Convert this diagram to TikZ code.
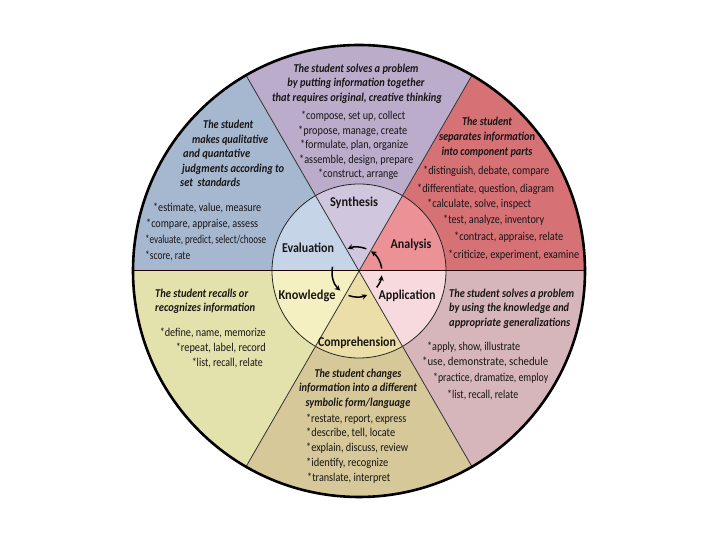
\documentclass[tikz,border=0pt]{standalone}
\usepackage{fontspec}
\usepackage{graphicx}
\setmainfont{Carlito}
\newfontfamily\cf[FakeStretch=0.86]{Carlito}
\usetikzlibrary{arrows.meta,calc}
\newcommand\fitw[2]{\resizebox{#1pt}{\height}{#2}}
\definecolor{synO}{RGB}{186,172,202}
\definecolor{synI}{RGB}{208,198,222}
\definecolor{evaO}{RGB}{166,184,208}
\definecolor{evaI}{RGB}{198,212,232}
\definecolor{anaO}{RGB}{214,114,118}
\definecolor{anaI}{RGB}{236,146,150}
\definecolor{appO}{RGB}{214,182,186}
\definecolor{appI}{RGB}{246,218,222}
\definecolor{comO}{RGB}{214,200,152}
\definecolor{comI}{RGB}{236,222,168}
\definecolor{knoO}{RGB}{228,226,172}
\definecolor{knoI}{RGB}{244,240,194}
\definecolor{txt}{RGB}{25,22,22}
\tikzset{
  hd/.style={font=\cf\fontsize{12}{14}\selectfont\bfseries\itshape, text=txt, inner sep=0pt},
  bd/.style={font=\cf\fontsize{12}{14}\selectfont, text=txt, inner sep=0pt},
  lb/.style={font=\cf\fontsize{13.5}{15}\selectfont\bfseries, text=txt, inner sep=0pt},
  sep/.style={draw=black!80, line width=0.8pt},
  cyc/.style={line width=1.5pt, -{Stealth[length=5.5pt,width=5.5pt]}}
}
\begin{document}
\begin{tikzpicture}[x=1pt,y=1pt]
\useasboundingbox (0,0) rectangle (720,540);
\coordinate (c) at (359,269);
% outer sectors
\foreach \a/\col in {0/anaO,60/synO,120/evaO,180/knoO,240/comO,300/appO}{
  \fill[\col] (c) -- ++(\a:226) arc[start angle=\a, end angle=\a+60, radius=226] -- cycle;
}
% inner sectors
\foreach \a/\col in {0/anaI,60/synI,120/evaI,180/knoI,240/comI,300/appI}{
  \fill[\col] (c) -- ++(\a:87) arc[start angle=\a, end angle=\a+60, radius=87] -- cycle;
}
\draw[black!85, line width=0.8pt] (c) circle[radius=87];
\foreach \a in {60,120,240,300}{ \draw[sep] (c) -- ++(\a:226); }
\coordinate (hl) at ($(c)+(-226,0)$);
\coordinate (hr) at ($(c)+(226,0)$);
\draw[draw=black!85!red, line width=1pt] (hl) -- (hr);
\draw[black, line width=2.6pt] (c) circle[radius=226];
% cycle arrows
\coordinate (m) at (357,268);
\draw[cyc] ($(m)+(68:25)$) arc[start angle=68, end angle=112, radius=25];
\draw[cyc] ($(m)+(168:25)$) arc[start angle=168, end angle=228, radius=25];
\draw[cyc] ($(m)+(250:25)$) arc[start angle=250, end angle=294, radius=25];
\draw[cyc] ($(m)+(322:25)$) arc[start angle=322, end angle=352, radius=25];
\draw[cyc] ($(m)+(8:25)$) arc[start angle=8, end angle=56, radius=25];
% inner labels
\node[lb] (lsyn) at (354,337) {\fitw{48}{Synthesis}};
\node[lb] (leva) at (308,292) {\fitw{52}{Evaluation}};
\node[lb] (lana) at (411,295) {\fitw{41}{Analysis}};
\node[lb] (lkno) at (307,244) {\fitw{57}{Knowledge}};
\node[lb] (lapp) at (407,244) {\fitw{57}{Application}};
\node[lb] (lcom) at (357,197) {\fitw{78}{Comprehension}};
% Synthesis
\node[hd, anchor=base] (s1) at (356,467) {\fitw{125}{The student solves a problem}};
\node[hd, anchor=base] (s2) at (356,453) {\fitw{137}{by putting information together}};
\node[hd, anchor=base] (s3) at (357,438) {\fitw{170}{that requires original, creative thinking}};
\node[bd, anchor=base west] (s4) at (301,420) {\fitw{104}{*compose, set up, collect}};
\node[bd, anchor=base west] (s5) at (298,405.5) {\fitw{109}{*propose, manage, create}};
\node[bd, anchor=base west] (s6) at (300,391) {\fitw{108}{*formulate, plan, organize}};
\node[bd, anchor=base west] (s7) at (299,376.5) {\fitw{114}{*assemble, design, prepare}};
\node[bd, anchor=base west] (s8) at (318,362) {\fitw{80}{*construct, arrange}};
% Evaluation
\node[hd, anchor=base west] (e1) at (203,411) {\fitw{50}{The student}};
\node[hd, anchor=base west] (e2) at (192,396.5) {\fitw{76}{makes qualitative}};
\node[hd, anchor=base west] (e3) at (183,382) {\fitw{67}{and quantative}};
\node[hd, anchor=base west] (e4) at (182,367.5) {\fitw{102}{judgments according to}};
\node[hd, anchor=base west] (e5) at (180,353) {\fitw{60}{set\ \ standards}};
\node[bd, anchor=base west] (e6) at (153,328) {\fitw{108}{*estimate, value, measure}};
\node[bd, anchor=base west] (e7) at (146,312) {\fitw{112}{*compare, appraise, assess}};
\node[bd, anchor=base west] (e8) at (145,296) {\fitw{121}{*evaluate, predict, select/choose}};
\node[bd, anchor=base west] (e9) at (145,280) {\fitw{45}{*score, rate}};
% Analysis
\node[hd, anchor=base] (a1) at (487,414) {\fitw{50}{The student}};
\node[hd, anchor=base] (a2) at (487,399) {\fitw{96}{separates information}};
\node[hd, anchor=base] (a3) at (487,384) {\fitw{91}{into component parts}};
\node[bd, anchor=base west] (a4) at (423,365) {\fitw{126}{*distinguish, debate, compare}};
\node[bd, anchor=base west] (a5) at (417,347) {\fitw{137}{*differentiate, question, diagram}};
\node[bd, anchor=base west] (a6) at (427,332) {\fitw{104}{*calculate, solve, inspect}};
\node[bd, anchor=base west] (a7) at (443,316) {\fitw{101}{*test, analyze, inventory}};
\node[bd, anchor=base west] (a8) at (454,299) {\fitw{109}{*contract, appraise, relate}};
\node[bd, anchor=base west] (a9) at (448,281) {\fitw{131}{*criticize, experiment, examine}};
% Knowledge
\node[hd, anchor=base west] (k1) at (155,242) {\fitw{93}{The student recalls or}};
\node[hd, anchor=base west] (k2) at (155,228) {\fitw{100}{recognizes information}};
\node[bd, anchor=base east] (k3) at (266,203) {\fitw{106}{*define, name, memorize}};
\node[bd, anchor=base east] (k4) at (266,188) {\fitw{90}{*repeat, label, record}};
\node[bd, anchor=base east] (k5) at (263,173) {\fitw{71}{*list, recall, relate}};
% Application
\node[hd, anchor=base west] (p1) at (449,242) {\fitw{125}{The student solves a problem}};
\node[hd, anchor=base west] (p2) at (449,228) {\fitw{120}{by using the knowledge and}};
\node[hd, anchor=base west] (p3) at (449,213) {\fitw{121}{appropriate generalizations}};
\node[bd, anchor=base west] (p4) at (427,189) {\fitw{93}{*apply, show, illustrate}};
\node[bd, anchor=base west] (p5) at (422,174) {\fitw{126}{*use, demonstrate, schedule}};
\node[bd, anchor=base west] (p6) at (433,158) {\fitw{115}{*practice, dramatize, employ}};
\node[bd, anchor=base west] (p7) at (447,141) {\fitw{71}{*list, recall, relate}};
% Comprehension
\node[hd, anchor=base] (c1) at (358,162) {\fitw{87}{The student changes}};
\node[hd, anchor=base] (c2) at (358,148) {\fitw{118}{information into a different}};
\node[hd, anchor=base] (c3) at (358,133) {\fitw{105}{symbolic form/language}};
\node[bd, anchor=base west] (c4) at (306,117) {\fitw{100}{*restate, report, express}};
\node[bd, anchor=base west] (c5) at (306,103) {\fitw{89}{*describe, tell, locate}};
\node[bd, anchor=base west] (c6) at (306,88) {\fitw{102}{*explain, discuss, review}};
\node[bd, anchor=base west] (c7) at (306,73) {\fitw{82}{*identify, recognize}};
\node[bd, anchor=base west] (c8) at (307,58) {\fitw{83}{*translate, interpret}};
\end{tikzpicture}
\end{document}
